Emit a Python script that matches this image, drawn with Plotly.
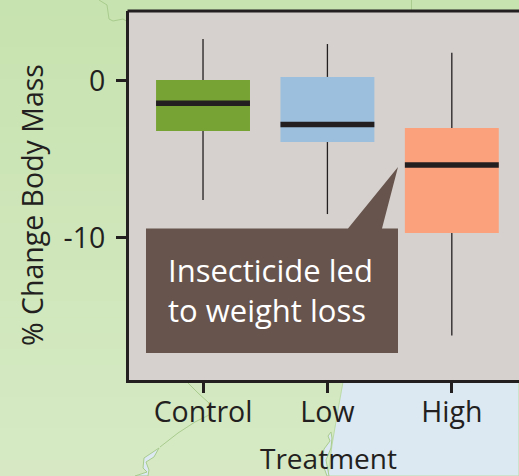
import plotly.graph_objects as go

# ---- data ----
categories = ["Control", "Low", "High"]
positions = [0, 1, 2]
upper_whisker = [2.68, 2.36, 1.80]
q3 = [0.06, 0.26, -3.00]
median = [-1.43, -2.78, -5.37]
q1 = [-3.20, -3.90, -9.71]
lower_whisker = [-7.60, -8.50, -16.26]
y_ticks = [0, -10]
y_tick_labels = ["0", "-10"]

# ---- style ----
W, H = 519, 476
L, R, T, B = 129, 519, 11, 380
BOX_COLORS = ["#76a333", "#9bbfdc", "#fba17b"]
DARK = "#231f20"
FONT = "Open Sans"
BOX_WIDTH = 0.755
PANEL = "#d6d1ce"
CALLOUT = "#67544d"
SEA = "#dce8f2"
RIVER = "#a9cc8e"


def px(x):
    return x / W


def py(y):
    return 1 - y / H


def path(points, close=False):
    s = "M" + " L".join(f"{px(x):.5f},{py(y):.5f}" for x, y in points)
    return s + (" Z" if close else "")


shapes = []
# map backdrop: soft vertical green gradient built from bands
N = 30
c0, c1 = (199, 227, 175), (214, 233, 196)
for i in range(N):
    t = i / (N - 1)
    col = tuple(round(a + (b - a) * t) for a, b in zip(c0, c1))
    shapes.append(dict(type="rect", xref="paper", yref="paper", layer="below",
                       x0=0, x1=1, y0=py((i + 1) * H / N + 1), y1=py(i * H / N),
                       fillcolor=f"rgb{col}", line_width=0))
# sea
shapes.append(dict(type="path", xref="paper", yref="paper", layer="below",
                   path=path([(352, 340), (343, 382), (338, 410), (332, 445), (328, 476), (519, 476), (519, 340)], True),
                   fillcolor=SEA, line=dict(color="#bcdca8", width=1)))
# spit and lake
shapes.append(dict(type="path", xref="paper", yref="paper", layer="below",
                   path=path([(331, 432), (328, 436), (330, 441), (324, 449), (322, 462), (327, 476), (329, 476), (326, 460), (331, 448), (332, 438)], True),
                   fillcolor=SEA, line=dict(color=RIVER, width=1)))
shapes.append(dict(type="path", xref="paper", yref="paper", layer="below",
                   path=path([(159, 448), (150, 454), (144, 458), (143, 468), (147, 472), (135, 476), (148, 476), (149, 470), (146, 462), (154, 457)], True),
                   fillcolor=SEA, line=dict(color=RIVER, width=1)))
# rivers
for pts in [
    [(99, 0), (107, 5), (109, 19), (113, 21), (123, 19), (128, 22)],
    [(411.5, 0), (411.5, 10)],
    [(187, 382), (198, 393), (209, 403), (209, 415), (195, 422), (178, 433), (160, 447)],
]:
    shapes.append(dict(type="path", xref="paper", yref="paper", layer="below",
                       path=path(pts), line=dict(color=RIVER, width=1)))
# panel
shapes.append(dict(type="rect", xref="paper", yref="paper", layer="below",
                   x0=px(L), x1=1, y0=py(B), y1=py(T), fillcolor=PANEL, line_width=0))
# top spine (the right side runs off the page, so no mirror)
shapes.append(dict(type="line", xref="paper", yref="paper", layer="above",
                   x0=px(L - 1.5), x1=1, y0=py(T), y1=py(T), line=dict(color=DARK, width=3)))
# callout
shapes.append(dict(type="path", xref="paper", yref="paper", layer="above",
                   path=path([(146, 228.5), (348, 228.5), (398, 167), (382, 228.5),
                              (398, 228.5), (398, 353), (146, 353)], True),
                   fillcolor=CALLOUT, line_width=0))

fig = go.Figure()
# boxes
fig.add_trace(go.Bar(x=positions, y=[a - b for a, b in zip(q3, q1)], base=q1,
                     width=BOX_WIDTH, marker=dict(color=BOX_COLORS, line_width=0),
                     showlegend=False))
# whiskers
wx, wy = [], []
for p, lo, a, b, hi in zip(positions, lower_whisker, q1, q3, upper_whisker):
    wx += [p, p, None, p, p, None]
    wy += [lo, a, None, b, hi, None]
fig.add_trace(go.Scatter(x=wx, y=wy, mode="lines", line=dict(color=DARK, width=1.3),
                         showlegend=False))
# medians
fig.add_trace(go.Scatter(x=positions, y=median, mode="markers", marker=dict(size=0.1, color=DARK),
                         error_x=dict(type="constant", value=BOX_WIDTH / 2, thickness=5.5, width=0, color=DARK),
                         showlegend=False))

annotations = [
    dict(xref="paper", yref="paper", x=px(166), y=py(290), text="Insecticide led<br>to weight loss",
         showarrow=False, xanchor="left", yanchor="middle", align="left",
         font=dict(family=FONT, size=31, color="white")),
    dict(xref="paper", yref="paper", x=px(328), y=py(458), text="Treatment",
         showarrow=False, xanchor="center", yanchor="middle",
         font=dict(family=FONT, size=28, color=DARK)),
    dict(xref="paper", yref="paper", x=px(32), y=py(205), text="% Change Body Mass",
         showarrow=False, textangle=-90, xanchor="center", yanchor="middle",
         font=dict(family=FONT, size=28.5, color=DARK)),
]

axis_common = dict(showgrid=False, zeroline=False, showline=True, linecolor=DARK, linewidth=3,
                   ticks="outside", ticklen=10, tickwidth=3, tickcolor=DARK,
                   tickfont=dict(family=FONT, size=28.5, color=DARK))
fig.update_layout(
    width=W, height=H, margin=dict(l=0, r=0, t=0, b=0, pad=0, autoexpand=False),
    paper_bgcolor="#cde5b9", plot_bgcolor="rgba(0,0,0,0)", showlegend=False,
    barmode="overlay", shapes=shapes, annotations=annotations,
    xaxis=dict(domain=[px(L), 1], range=[-0.595, 2.54], tickmode="array", tickvals=positions,
               ticktext=categories, ticklabelstandoff=-5, **axis_common),
    yaxis=dict(domain=[py(B), py(T)], range=[-19.1, 4.47], tickmode="array", tickvals=y_ticks,
               ticktext=y_tick_labels, ticklabelstandoff=5, **axis_common),
)
fig.write_html("out.html", config=dict(displayModeBar=False),
               post_script="document.body.style.margin='0';document.documentElement.style.overflow='hidden';")
